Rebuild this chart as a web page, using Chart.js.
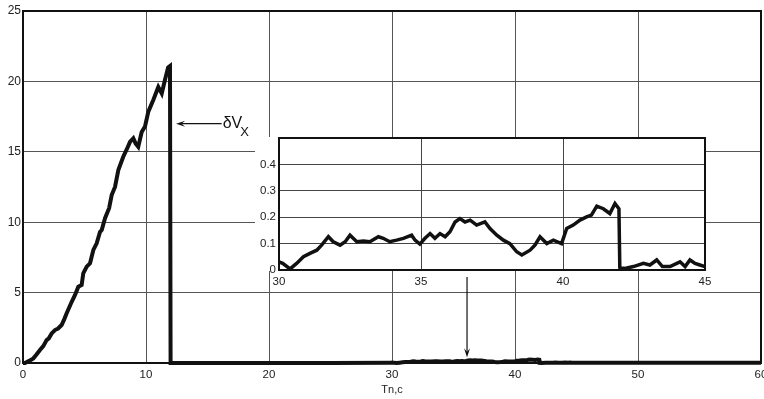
<!DOCTYPE html>
<html>
<head>
<meta charset="utf-8">
<script src="https://cdn.jsdelivr.net/npm/chart.js@4.4.0/dist/chart.umd.min.js"></script>
<style>
	html, body { margin: 0; padding: 0; background: #fff; }
	#wrap { position: relative; width: 764px; height: 399px; overflow: hidden; }
	#mainChart { position: absolute; left: 0; top: 0; }
	#insetChart { position: absolute; left: 240px; top: 128px; }
</style>
</head>
<body>
<div id="wrap">
	<canvas id="mainChart" width="764" height="399"></canvas>
	<canvas id="insetChart" width="480" height="170"></canvas>
</div>
<script>
// rise of dVx before the cut-off (t, c)
var riseT = [0, 0.16, 0.5, 0.84, 1.1, 1.38, 1.65, 1.92, 2.1, 2.33, 2.6, 2.85, 3.14, 3.35, 3.55, 3.96, 4.23, 4.5, 4.77, 4.9, 5.18, 5.45, 5.72, 5.99, 6.26, 6.4, 6.67, 7.0, 7.21, 7.48, 7.75, 8.15, 8.45, 8.7, 8.97, 9.15, 9.37, 9.65, 9.92, 10.19, 10.6, 11.0, 11.28, 11.54, 11.8, 11.95, 12.0];
var riseV = [0, 0, 0.15, 0.33, 0.6, 0.92, 1.2, 1.63, 1.75, 2.1, 2.34, 2.45, 2.7, 3.1, 3.53, 4.35, 4.83, 5.42, 5.54, 6.37, 6.84, 7.08, 8.03, 8.5, 9.3, 9.45, 10.28, 11.0, 11.93, 12.5, 13.7, 14.65, 15.2, 15.7, 15.96, 15.6, 15.36, 16.4, 16.8, 17.85, 18.7, 19.6, 19.15, 20.1, 21.0, 21.1, 0];

// residual after the cut-off (near zero)
var flatT = [16, 20, 25, 29.9];
var flatV = [0.005, 0.005, 0.008, 0.01];

// zoomed part, 30..45 c
var insetT = [30.0, 30.13, 30.39, 30.62, 30.86, 31.09, 31.33, 31.5, 31.74, 31.91, 32.15, 32.33, 32.5, 32.74, 32.97, 33.2, 33.5, 33.67, 33.9, 34.14, 34.38, 34.67, 34.79, 34.96, 35.14, 35.32, 35.49, 35.67, 35.85, 36.02, 36.2, 36.37, 36.55, 36.73, 36.96, 37.25, 37.43, 37.67, 37.9, 38.13, 38.37, 38.55, 38.84, 39.01, 39.19, 39.43, 39.66, 39.95, 40.13, 40.36, 40.6, 40.83, 41.0, 41.19, 41.42, 41.65, 41.83, 41.97, 42.0, 42.18, 42.48, 42.83, 43.06, 43.3, 43.5, 43.77, 44.12, 44.3, 44.47, 44.65, 44.82, 45.0];
var insetV = [0.031, 0.025, 0.004, 0.025, 0.05, 0.063, 0.075, 0.094, 0.126, 0.107, 0.094, 0.107, 0.132, 0.107, 0.11, 0.107, 0.126, 0.12, 0.107, 0.113, 0.12, 0.132, 0.113, 0.098, 0.12, 0.138, 0.12, 0.138, 0.126, 0.145, 0.182, 0.195, 0.182, 0.189, 0.17, 0.182, 0.157, 0.132, 0.113, 0.1, 0.069, 0.057, 0.075, 0.094, 0.126, 0.1, 0.113, 0.1, 0.157, 0.17, 0.189, 0.201, 0.208, 0.242, 0.232, 0.214, 0.252, 0.232, 0.01, 0.006, 0.013, 0.025, 0.019, 0.038, 0.013, 0.013, 0.031, 0.013, 0.038, 0.025, 0.019, 0.013];

var tailT = [50, 60];
var tailV = [0.01, 0.01];

var mainXTicks = { min: 0, max: 60, step: 10 };
var mainYTicks = { min: 0, max: 25, step: 5 };
var insetXTicks = { min: 30, max: 45, step: 5 };
var insetYTicks = { min: 0, max: 0.5, step: 0.1 };

Chart.defaults.font.family = 'Arial, "Liberation Sans", Helvetica, sans-serif';
Chart.defaults.color = '#222';

function toPoints(ts, vs) {
	var pts = [];
	ts.forEach(function(t, i) {
		pts.push({ x: t, y: vs[i] });
	});
	return pts;
}

var mainPts = toPoints(riseT, riseV)
	.concat(toPoints(flatT, flatV))
	.concat(toPoints(insetT, insetV))
	.concat(toPoints(tailT, tailV));
var insetPts = toPoints(insetT, insetV);

// box round the plot area
var framePlugin = {
	id: 'frame',
	afterDraw: function(chart) {
		var a = chart.chartArea;
		var ctx = chart.ctx;
		ctx.save();
		ctx.strokeStyle = '#111';
		ctx.lineWidth = 2;
		ctx.strokeRect(a.left, a.top, a.right - a.left, a.bottom - a.top);
		ctx.restore();
	}
};

// white patch under the inset
var insetBgPlugin = {
	id: 'insetBg',
	beforeDraw: function(chart) {
		var a = chart.chartArea;
		var ctx = chart.ctx;
		ctx.save();
		ctx.fillStyle = '#fff';
		ctx.fillRect(15, a.top - 1, a.right - 15 + 1, a.bottom - a.top + 2);
		ctx.restore();
	}
};

function arrow(ctx, x1, y1, x2, y2, len, half) {
	var ang = Math.atan2(y2 - y1, x2 - x1);
	ctx.beginPath();
	ctx.moveTo(x1, y1);
	ctx.lineTo(x2 - Math.cos(ang) * len * 0.6, y2 - Math.sin(ang) * len * 0.6);
	ctx.stroke();
	ctx.beginPath();
	ctx.moveTo(x2, y2);
	ctx.lineTo(x2 - Math.cos(ang) * len - Math.sin(ang) * half, y2 - Math.sin(ang) * len + Math.cos(ang) * half);
	ctx.lineTo(x2 - Math.cos(ang) * len * 0.6, y2 - Math.sin(ang) * len * 0.6);
	ctx.lineTo(x2 - Math.cos(ang) * len + Math.sin(ang) * half, y2 - Math.sin(ang) * len - Math.cos(ang) * half);
	ctx.closePath();
	ctx.fill();
}

// dVx label and the arrow to the zoomed part
var notePlugin = {
	id: 'notes',
	afterDraw: function(chart) {
		var xs = chart.scales.x;
		var ys = chart.scales.y;
		var ctx = chart.ctx;
		ctx.save();
		ctx.strokeStyle = '#111';
		ctx.fillStyle = '#111';
		ctx.lineWidth = 1.2;

		var ax1 = xs.getPixelForValue(16.15);
		var ax2 = xs.getPixelForValue(12.45);
		var ay = ys.getPixelForValue(17);
		arrow(ctx, ax1, ay, ax2, ay, 9, 3);

		ctx.font = '16px Arial, "Liberation Sans", sans-serif';
		ctx.textBaseline = 'alphabetic';
		ctx.fillText('\u03B4V', ax1 + 1, ay + 4);
		var w = ctx.measureText('\u03B4V').width;
		ctx.font = '13px Arial, "Liberation Sans", sans-serif';
		ctx.fillText('X', ax1 + 1 + w - 2, ay + 12);

		var dx = xs.getPixelForValue(36.1);
		arrow(ctx, dx, ys.getPixelForValue(6.1), dx, ys.getPixelForValue(0.4), 9, 3);
		ctx.restore();
	}
};

var mainChart = new Chart(document.getElementById('mainChart'), {
	type: 'line',
	data: {
		datasets: [{
			data: mainPts,
			borderColor: '#111',
			borderWidth: 4,
			pointRadius: 0,
			tension: 0,
			clip: false
		}]
	},
	options: {
		responsive: false,
		animation: false,
		layout: { padding: { left: 0, top: 11, right: 3, bottom: 0 } },
		plugins: { legend: { display: false }, tooltip: { enabled: false } },
		scales: {
			x: {
				type: 'linear',
				min: mainXTicks.min, max: mainXTicks.max,
				ticks: { stepSize: mainXTicks.step, font: { size: 11.5 }, padding: 5, maxRotation: 0, autoSkip: false },
				grid: { color: '#555', lineWidth: 1, drawTicks: false },
				border: { display: false },
				title: { display: true, text: 'Tn,c', font: { size: 11 }, color: '#222', padding: { top: 0, bottom: 2 } },
				afterFit: function(s) { s.height = 36; s.paddingLeft = 0; s.paddingRight = 0; }
			},
			y: {
				min: mainYTicks.min, max: mainYTicks.max,
				ticks: { stepSize: mainYTicks.step, font: { size: 12 }, padding: 2 },
				grid: { color: '#555', lineWidth: 1, drawTicks: false },
				border: { display: false },
				afterFit: function(s) { s.width = 23; s.paddingTop = 0; s.paddingBottom = 0; }
			}
		}
	},
	plugins: [framePlugin, notePlugin]
});

var insetChart = new Chart(document.getElementById('insetChart'), {
	type: 'line',
	data: {
		datasets: [{
			data: insetPts,
			borderColor: '#111',
			borderWidth: 3.5,
			pointRadius: 0,
			tension: 0,
			clip: false
		}]
	},
	options: {
		responsive: false,
		animation: false,
		layout: { padding: { left: 0, top: 10, right: 15, bottom: 0 } },
		plugins: { legend: { display: false }, tooltip: { enabled: false } },
		scales: {
			x: {
				type: 'linear',
				min: insetXTicks.min, max: insetXTicks.max,
				ticks: { stepSize: insetXTicks.step, font: { size: 11.5 }, padding: 5, maxRotation: 0, autoSkip: false },
				grid: { color: '#444', lineWidth: 1, drawTicks: false },
				border: { display: false },
				afterFit: function(s) { s.height = 28; s.paddingLeft = 0; s.paddingRight = 0; }
			},
			y: {
				min: insetYTicks.min, max: insetYTicks.max,
				ticks: {
					stepSize: insetYTicks.step, font: { size: 11.5 }, padding: 3,
					callback: function(v) {
						if (Math.abs(v - 0.5) < 1e-9) return '';
						if (v === 0) return '0';
						return Number(v).toFixed(1);
					}
				},
				grid: { color: '#444', lineWidth: 1, drawTicks: false },
				border: { display: false },
				afterFit: function(s) { s.width = 39; s.paddingTop = 0; s.paddingBottom = 0; }
			}
		}
	},
	plugins: [insetBgPlugin, framePlugin]
});
</script>
</body>
</html>
